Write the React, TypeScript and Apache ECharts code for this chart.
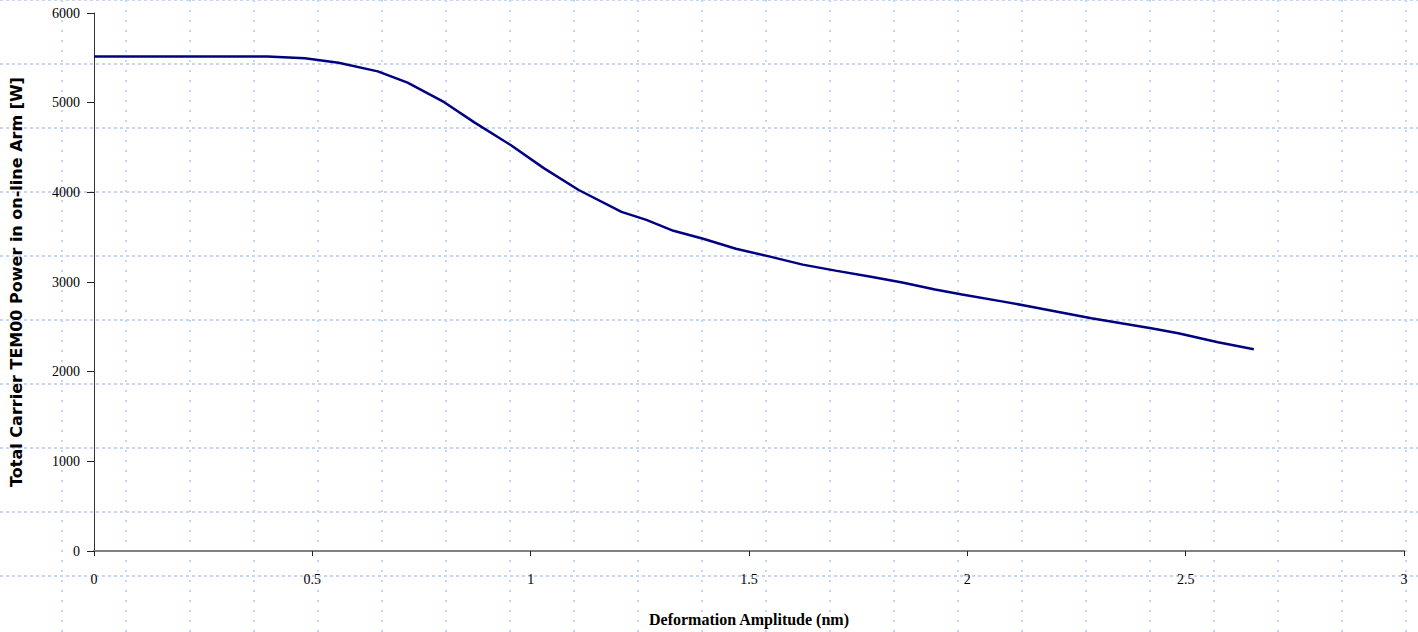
import React, { useEffect, useRef } from "react";
import * as echarts from "echarts";

// Deformation amplitude (nm) and the corresponding carrier power (W)
const amplitude = [
  0, 0.397, 0.483, 0.56, 0.65, 0.718, 0.802, 0.871, 0.955, 1.03, 1.11, 1.208,
  1.265, 1.327, 1.395, 1.47, 1.548, 1.623, 1.698, 1.776, 1.851, 1.926, 1.988,
  2.079, 2.131, 2.284, 2.421, 2.483, 2.574, 2.656,
];
const power = [
  5515, 5515, 5495, 5445, 5349, 5223, 5005, 4780, 4525, 4270, 4026, 3782,
  3693, 3571, 3482, 3371, 3283, 3194, 3127, 3061, 2994, 2917, 2861, 2784,
  2739, 2595, 2484, 2429, 2329, 2251,
];

const xTitle = "Deformation Amplitude (nm)";
const yTitle = "Total Carrier TEM00 Power in on-line Arm [W]";

const W = 1418;
const H = 632;

// Light dotted background lattice behind the whole figure
function backgroundLattice() {
  const items: any[] = [];
  const stroke = "#c6d6f6";
  for (let x = -2; x <= W; x += 64) {
    items.push({
      type: "line",
      silent: true,
      z: -10,
      shape: { x1: x, y1: 0, x2: x, y2: H },
      style: { stroke, lineWidth: 2, lineDash: [2, 8] },
    });
  }
  for (let y = 0; y <= H; y += 64) {
    items.push({
      type: "line",
      silent: true,
      z: -10,
      shape: { x1: 0, y1: y, x2: W, y2: y },
      style: { stroke, lineWidth: 2, lineDash: [3, 3] },
    });
  }
  return items;
}

export default function App() {
  const ref = useRef<HTMLDivElement>(null);

  useEffect(() => {
    if (!ref.current) return;
    const chart = echarts.init(ref.current, undefined, { renderer: "svg" });
    const serif = "'Liberation Serif', 'Times New Roman', serif";
    chart.setOption({
      animation: false,
      backgroundColor: "#ffffff",
      graphic: backgroundLattice(),
      grid: { left: 88, right: 14, top: 13, bottom: 78, containLabel: false },
      xAxis: {
        type: "value",
        min: 0,
        max: 3,
        interval: 0.5,
        name: xTitle,
        nameLocation: "middle",
        nameGap: 60,
        nameTextStyle: {
          fontFamily: serif,
          fontWeight: "bold",
          fontSize: 16,
          color: "#000",
        },
        axisLine: { show: true, lineStyle: { color: "#808080", width: 2 } },
        axisTick: {
          show: true,
          length: 5,
          lineStyle: { color: "#222", width: 1 },
        },
        axisLabel: {
          fontFamily: serif,
          fontSize: 14,
          color: "#000",
          margin: 21,
          formatter: (v: number) => String(v),
        },
        splitLine: { show: false },
      },
      yAxis: {
        type: "value",
        min: 0,
        max: 6000,
        interval: 1000,
        name: yTitle,
        nameLocation: "middle",
        nameGap: 70,
        nameTextStyle: {
          fontFamily: "'DejaVu Sans', sans-serif",
          fontWeight: "bold",
          fontSize: 16,
          color: "#000",
        },
        axisLine: { show: true, lineStyle: { color: "#333", width: 1 } },
        axisTick: {
          show: true,
          length: 7,
          lineStyle: { color: "#222", width: 1 },
        },
        axisLabel: {
          fontFamily: serif,
          fontSize: 14,
          color: "#000",
          margin: 14,
          formatter: (v: number) => String(v),
        },
        splitLine: { show: false },
      },
      series: [
        {
          type: "line",
          data: amplitude.map((a, i) => [a, power[i]]),
          showSymbol: false,
          lineStyle: { color: "#000080", width: 2.5 },
          itemStyle: { color: "#000080" },
        },
      ],
    });
    return () => chart.dispose();
  }, []);

  return (
    <div
      ref={ref}
      style={{ position: "absolute", left: 0, top: 0, width: W, height: H }}
    />
  );
}
